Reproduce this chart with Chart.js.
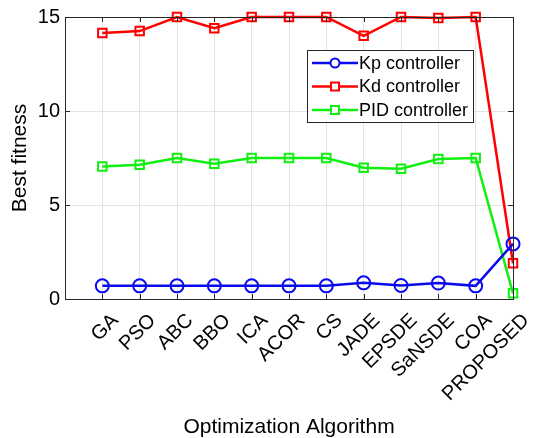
<!DOCTYPE html>
<html>
<head>
<meta charset="utf-8">
<script src="https://cdn.jsdelivr.net/npm/chart.js@4/dist/chart.umd.min.js"></script>
<style>
  html, body { margin: 0; padding: 0; background: #fff; }
  #wrap { width: 548px; height: 438px; }
</style>
</head>
<body>
<div id="wrap"><canvas id="c" width="548" height="438"></canvas></div>
<script>
// Algorithms compared on the x axis
const algorithms = ['GA', 'PSO', 'ABC', 'BBO', 'ICA', 'ACOR', 'CS', 'JADE', 'EPSDE', 'SaNSDE', 'COA', 'PROPOSED'];
// Best fitness reached by each controller
const kpFitness  = [0.70, 0.70, 0.70, 0.70, 0.70, 0.70, 0.70, 0.86, 0.72, 0.85, 0.70, 2.93];
const kdFitness  = [14.15, 14.25, 15.0, 14.4, 15.0, 15.0, 15.0, 14.0, 15.0, 14.95, 15.0, 1.9];
const pidFitness = [7.05, 7.14, 7.5, 7.2, 7.5, 7.5, 7.5, 6.98, 6.93, 7.45, 7.5, 0.3];
const yTicks = [0, 5, 10, 15];

const FONT = 'Liberation Sans, Arial, Helvetica, sans-serif';

function toPoints(vals) { return vals.map((v, i) => ({ x: i + 1, y: v })); }

const series = [
  { label: 'Kp controller',  data: kpFitness,  color: '#0a0aee', style: 'circle', r: 6.5 },
  { label: 'Kd controller',  data: kdFitness,  color: '#ff0000', style: 'rect',   r: 6 },
  { label: 'PID controller', data: pidFitness, color: '#11ee11', style: 'rect',   r: 6 }
];

// Box around the plot area, inward tick marks and an in-axes legend
const framePlugin = {
  id: 'frame',
  afterDraw(chart) {
    const { ctx, chartArea: a, scales } = chart;
    ctx.save();
    ctx.strokeStyle = '#262626';
    ctx.lineWidth = 1;
    ctx.strokeRect(a.left + 0.5, a.top + 0.5, a.right - a.left, a.bottom - a.top);

    const tl = 5;
    ctx.beginPath();
    algorithms.forEach((_, i) => {
      const x = Math.round(scales.x.getPixelForValue(i + 1)) + 0.5;
      ctx.moveTo(x, a.bottom); ctx.lineTo(x, a.bottom - tl);
      ctx.moveTo(x, a.top); ctx.lineTo(x, a.top + tl);
    });
    yTicks.forEach(v => {
      const y = Math.round(scales.y.getPixelForValue(v)) + 0.5;
      ctx.moveTo(a.left, y); ctx.lineTo(a.left + tl, y);
      ctx.moveTo(a.right, y); ctx.lineTo(a.right - tl, y);
    });
    ctx.stroke();

    // legend
    const lx = 307, ly = 50, lw = 166, lh = 72;
    ctx.fillStyle = '#fff';
    ctx.fillRect(lx, ly, lw, lh);
    ctx.strokeStyle = '#262626';
    ctx.strokeRect(lx + 0.5, ly + 0.5, lw, lh);
    ctx.font = '18px ' + FONT;
    ctx.textBaseline = 'middle';
    series.forEach((s, i) => {
      const y = ly + 13 + i * 23.5;
      ctx.strokeStyle = s.color;
      ctx.lineWidth = 2.5;
      ctx.beginPath();
      ctx.moveTo(lx + 5, y);
      ctx.lineTo(lx + 51, y);
      ctx.stroke();
      ctx.fillStyle = '#fff';
      ctx.lineWidth = 2;
      if (s.style === 'circle') {
        ctx.beginPath();
        ctx.arc(lx + 28, y, 4.5, 0, Math.PI * 2);
        ctx.fill();
        ctx.stroke();
      } else {
        ctx.fillRect(lx + 24, y - 4, 8, 8);
        ctx.strokeRect(lx + 24, y - 4, 8, 8);
      }
      ctx.fillStyle = '#000';
      ctx.fillText(s.label, lx + 52, y + 1);
    });
    ctx.restore();
  }
};

new Chart(document.getElementById('c'), {
  type: 'line',
  data: {
    datasets: series.map(s => ({
      label: s.label,
      data: toPoints(s.data),
      borderColor: s.color,
      backgroundColor: 'rgba(255,255,255,0)',
      borderWidth: 2.5,
      pointStyle: s.style,
      pointRadius: s.r,
      pointBorderWidth: 2,
      pointBorderColor: s.color,
      pointBackgroundColor: 'rgba(255,255,255,0)',
      tension: 0,
      clip: false
    }))
  },
  options: {
    responsive: false,
    animation: false,
    layout: { padding: { top: 14, right: 35, left: 0, bottom: 0 } },
    plugins: { legend: { display: false }, tooltip: { enabled: false } },
    scales: {
      x: {
        type: 'linear',
        min: 0, max: 12,
        afterBuildTicks(scale) {
          scale.ticks = algorithms.map((_, i) => ({ value: i + 1 }));
        },
        afterFit(scale) { scale.height = 139; },
        ticks: {
          autoSkip: false,
          maxRotation: 45, minRotation: 45,
          color: '#000',
          padding: 10,
          labelOffset: 13,
          font: { family: FONT, size: 20 },
          callback: (v) => algorithms[v - 1] || ''
        },
        grid: {
          color: '#e3e3e3',
          drawTicks: false
        },
        border: { color: '#262626' },
        title: {
          display: true,
          text: 'Optimization Algorithm',
          color: '#000',
          font: { family: FONT, size: 21 },
          padding: { top: 0, bottom: -2 }
        }
      },
      y: {
        min: 0, max: 15,
        afterBuildTicks(scale) {
          scale.ticks = yTicks.map(v => ({ value: v }));
        },
        afterFit(scale) { scale.width = 65; },
        ticks: {
          color: '#000',
          padding: 5,
          font: { family: FONT, size: 20 }
        },
        grid: {
          color: '#e3e3e3',
          drawTicks: false
        },
        border: { color: '#262626' },
        title: {
          display: true,
          text: 'Best fitness',
          color: '#000',
          font: { family: FONT, size: 21 },
          padding: { top: 8, bottom: 0 }
        }
      }
    }
  },
  plugins: [framePlugin]
});
</script>
</body>
</html>
